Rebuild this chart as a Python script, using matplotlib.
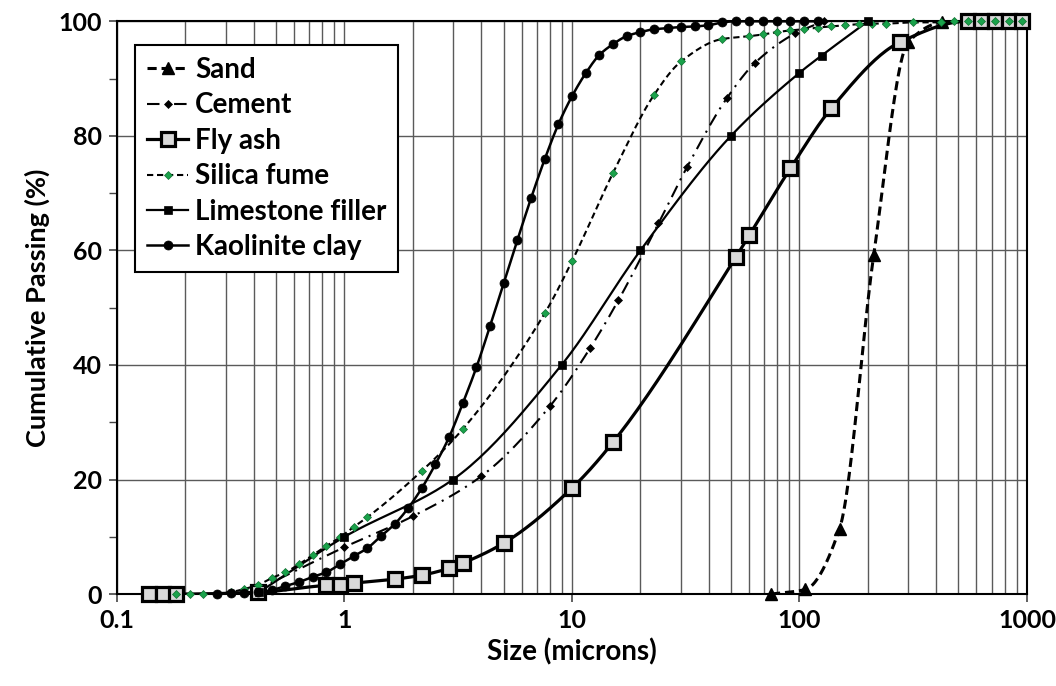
import numpy as np
import matplotlib
matplotlib.use("Agg")
import matplotlib.pyplot as plt
from matplotlib.lines import Line2D
from matplotlib.ticker import FixedLocator, NullFormatter, FixedFormatter

plt.rcParams['font.family'] = ['Lato', 'DejaVu Sans']
plt.rcParams['font.weight'] = 'bold'

# ---------------- data ----------------
sand_x = [75, 106, 150, 212, 300, 425, 600, 850]
sand_y = [0, 0.8, 11.4, 59.2, 96.3, 99.8, 100, 100]

cement_x = [0.4, 1, 2, 4, 8, 12, 16, 24, 32, 48, 64, 96, 128]
cement_y = [0.5, 8.2, 13.6, 20.6, 32.8, 42.9, 51.3, 64.7, 74.5, 86.6, 92.8, 97.9, 100]

flyash_x = [0.138, 0.1585, 0.182, 0.417, 0.832, 0.955, 1.096, 1.66, 2.188, 2.884,
            3.311, 5.012, 10.0, 15.14, 52.48, 60.26, 91.2, 138.0, 275.4, 549.5,
            631.0, 724.4, 831.8, 955.0]
flyash_y = [0, 0, 0, 0.3, 1.5, 1.6, 1.9, 2.6, 3.3, 4.5,
            5.4, 8.9, 18.5, 26.5, 58.8, 62.7, 74.3, 84.8, 96.3, 100,
            100, 100, 100, 100]

silica_x = [0.182, 0.209, 0.240, 0.275, 0.316, 0.363, 0.417, 0.479, 0.550, 0.631,
            0.724, 0.832, 0.955, 1.096, 1.259, 2.188, 3.311, 7.586, 10.0, 15.14,
            22.91, 30.2, 45.71, 60.26, 69.18, 79.43, 91.2, 104.7, 120.2, 138.0,
            158.5, 182.0, 209.0, 240.0, 316.0, 417.0, 479.0, 549.5, 631.0, 724.4,
            831.8, 955.0]
silica_y = [0, 0, 0, 0.1, 0.35, 0.9, 1.6, 2.8, 3.8, 5.2,
            6.8, 8.4, 9.9, 11.7, 13.4, 21.5, 28.8, 49.0, 58.1, 73.5,
            87.1, 93.0, 96.9, 97.4, 97.7, 98.1, 98.4, 98.6, 98.9, 99.1,
            99.3, 99.5, 99.6, 99.6, 99.8, 99.8, 100, 100, 100, 100,
            100, 100]

lime_x = [0.42, 1, 3, 9, 20, 50, 100, 125, 200]
lime_y = [0.3, 10, 20, 40, 60, 80, 91, 94, 100]

kaol_x = [0.275, 0.316, 0.363, 0.417, 0.479, 0.550, 0.631, 0.724, 0.832, 0.955,
          1.096, 1.259, 1.445, 1.660, 1.905, 2.188, 2.512, 2.884, 3.311, 3.802,
          4.365, 5.012, 5.754, 6.607, 7.586, 8.710, 10.0, 11.48, 13.18, 15.14,
          17.38, 19.95, 22.91, 26.30, 30.20, 34.67, 39.81, 45.71, 52.48, 60.26,
          69.18, 79.43, 91.20, 104.7, 120.2]
kaol_y = [0, 0.2, 0.2, 0.3, 0.7, 1.4, 2.1, 3.0, 3.8, 5.2,
          6.6, 8.0, 10.1, 12.2, 15.0, 18.5, 22.7, 27.4, 33.3, 39.6,
          46.8, 54.3, 61.8, 69.1, 75.9, 82.0, 86.9, 90.9, 94.1, 96.0,
          97.4, 98.1, 98.6, 98.8, 99.0, 99.1, 99.3, 99.8, 100, 100,
          100, 100, 100, 100, 100]

x_ticks = [0.1, 1, 10, 100, 1000]
x_tick_labels = ["0.1", "1", "10", "100", "1000"]
y_ticks = [0, 20, 40, 60, 80, 100]


def smooth(x, y, n=25):
    """Monotone (PCHIP) curve through the points in log-x space, like a smoothed line."""
    lx = np.log10(np.asarray(x, float))
    yv = np.asarray(y, float)
    h = np.diff(lx)
    d = np.diff(yv) / h
    m = np.zeros_like(yv)
    for k in range(1, len(yv) - 1):
        if d[k - 1] * d[k] <= 0:
            m[k] = 0.0
        else:
            w1 = 2 * h[k] + h[k - 1]
            w2 = h[k] + 2 * h[k - 1]
            m[k] = (w1 + w2) / (w1 / d[k - 1] + w2 / d[k])
    m[0] = d[0]
    m[-1] = d[-1]
    xs, ys = [], []
    for i in range(len(h)):
        t = np.linspace(0, 1, n, endpoint=(i == len(h) - 1))
        h00 = 2 * t**3 - 3 * t**2 + 1
        h10 = t**3 - 2 * t**2 + t
        h01 = -2 * t**3 + 3 * t**2
        h11 = t**3 - t**2
        ys.append(h00 * yv[i] + h10 * h[i] * m[i] + h01 * yv[i + 1] + h11 * h[i] * m[i + 1])
        xs.append(lx[i] + t * h[i])
    return 10 ** np.concatenate(xs), np.concatenate(ys)


fig = plt.figure(figsize=(10.56, 6.86), dpi=100)
ax = fig.add_axes([0.1108, 0.134, 0.8617, 0.835])

green = '#1aa24b'
series = [
    dict(x=sand_x, y=sand_y, label='Sand', ls=(0, (3.0, 1.6)), lw=2.2,
         marker='^', ms=8, mfc='black', mec='black', mew=1, color='black'),
    dict(x=cement_x, y=cement_y, label='Cement', ls=(0, (6, 3, 1, 3)), lw=1.5,
         marker='D', ms=4.5, mfc='black', mec='black', mew=0.5, color='black'),
    dict(x=flyash_x, y=flyash_y, label='Fly ash', ls='-', lw=2.3,
         marker='s', ms=9.5, mfc='#d9d9d9', mec='black', mew=2.3, color='black'),
    dict(x=silica_x, y=silica_y, label='Silica fume', ls=(0, (3, 1.8)), lw=1.5,
         marker='D', ms=4.5, mfc=green, mec='#0f6f30', mew=0.5, color='black'),
    dict(x=lime_x, y=lime_y, label='Limestone filler', ls='-', lw=1.6,
         marker='s', ms=6, mfc='black', mec='black', mew=0.5, color='black'),
    dict(x=kaol_x, y=kaol_y, label='Kaolinite clay', ls='-', lw=1.8,
         marker='o', ms=6.5, mfc='black', mec='black', mew=0.5, color='black'),
]

handles = []
for i, s in enumerate(series):
    sx, sy = smooth(s['x'], s['y'])
    ax.plot(sx, sy, linestyle=s['ls'], lw=s['lw'], color=s['color'], zorder=3 + i * 0.1)
    ax.plot(s['x'], s['y'], linestyle='none', marker=s['marker'], ms=s['ms'],
            mfc=s['mfc'], mec=s['mec'], mew=s['mew'], zorder=5 + i * 0.1, clip_on=False)
    handles.append(Line2D([], [], linestyle=s['ls'], lw=s['lw'], color=s['color'],
                          marker=s['marker'], ms=s['ms'], mfc=s['mfc'], mec=s['mec'],
                          mew=s['mew'], label=s['label']))

ax.set_xscale('log')
ax.set_xlim(0.1, 1000)
ax.set_ylim(0, 100)

ax.xaxis.set_major_locator(FixedLocator(x_ticks))
ax.xaxis.set_major_formatter(FixedFormatter(x_tick_labels))
minors = [m * 10.0**e for e in range(-1, 3) for m in range(2, 10)]
ax.xaxis.set_minor_locator(FixedLocator(minors))
ax.xaxis.set_minor_formatter(NullFormatter())
ax.yaxis.set_major_locator(FixedLocator(y_ticks))
ax.yaxis.set_minor_locator(FixedLocator([10, 30, 50, 70, 90]))

ax.grid(True, which='major', axis='both', color='#5a5a5a', lw=1.0)
ax.grid(True, which='minor', axis='x', color='#5a5a5a', lw=1.0)
ax.set_axisbelow(True)

ax.tick_params(axis='both', which='major', direction='out', length=6, width=1.2,
               labelsize=18, pad=5, color='#444444')
ax.tick_params(axis='x', which='minor', length=0)
ax.tick_params(axis='y', which='minor', direction='out', length=6, width=1.0, color='#444444')
for lab in ax.get_xticklabels() + ax.get_yticklabels():
    lab.set_fontweight('bold')

for sp in ax.spines.values():
    sp.set_color('black')
    sp.set_linewidth(1.5)

ax.set_xlabel('Size (microns)', fontsize=20, fontweight='bold', labelpad=4)
ax.set_ylabel('Cumulative Passing (%)', fontsize=19.5, fontweight='bold', labelpad=6)

leg = ax.legend(handles=handles, loc='upper left', bbox_to_anchor=(0.0198, 0.958),
                borderaxespad=0, numpoints=1, handlelength=1.5,
                handletextpad=0.25, labelspacing=0.34, borderpad=0.42,
                fancybox=False, framealpha=1, edgecolor='black',
                prop={'weight': 'bold', 'size': 20})
leg.get_frame().set_linewidth(1.5)
leg.set_zorder(10)

fig.savefig('out.png', dpi=100)
